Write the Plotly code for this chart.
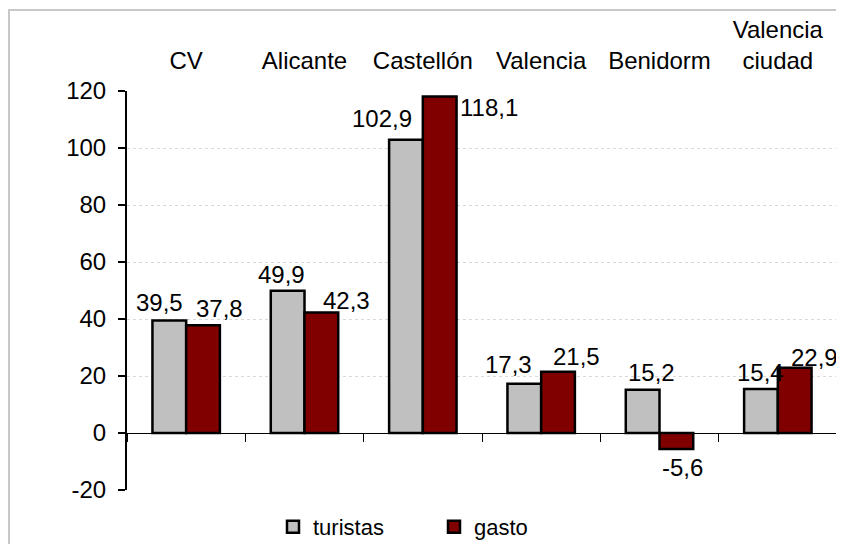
import plotly.graph_objects as go

categories = ["CV", "Alicante", "Castellón", "Valencia", "Benidorm", "Valencia<br>ciudad"]
turistas = [39.5, 49.9, 102.9, 17.3, 15.2, 15.4]
gasto = [37.8, 42.3, 118.1, 21.5, -5.6, 22.9]
y_ticks = [-20, 0, 20, 40, 60, 80, 100, 120]

# label offsets (pixels) relative to bar centre / bar end
turistas_label_dx = [-10, -6, -24, -16, 9, 0]
turistas_label_dy = [18, 16, 21, 19, 17, 17]
gasto_label_dx = [16, 25, 49, 18, 6, 20]
gasto_label_dy = [17, 12, -11, 15, 19, 10]

FONT = "Liberation Sans, Arial, sans-serif"
W, H = 844, 544
ML, MT = 119, 83
PLOT_W, PLOT_H = 710, 399
MR = W - ML - PLOT_W
MB = H - MT - PLOT_H
BARGAP = 0.43
YMIN, YMAX = y_ticks[0], y_ticks[-1]

fig = go.Figure()
fig.add_trace(go.Bar(name="turistas", x=categories, y=turistas,
                     marker=dict(color="#C0C0C0", line=dict(color="black", width=2.5)),
                     cliponaxis=False))
fig.add_trace(go.Bar(name="gasto", x=categories, y=gasto,
                     marker=dict(color="#800000", line=dict(color="black", width=2.5)),
                     cliponaxis=False))

# invisible trace carrying the zero-line category axis
fig.add_trace(go.Scatter(x=[-0.5, len(categories) - 0.5], y=[0, 0], xaxis="x2", yaxis="y",
                         mode="lines", line=dict(width=0), showlegend=False, hoverinfo="skip"))

def fmt(v):
    return f"{v:.1f}".replace(".", ",")

cat_w = PLOT_W / len(categories)
bar_w = cat_w * (1 - BARGAP) / 2

annotations = []
for i, c in enumerate(categories):
    for vals, dxs, dys, side in ((turistas, turistas_label_dx, turistas_label_dy, -1),
                                 (gasto, gasto_label_dx, gasto_label_dy, 1)):
        v = vals[i]
        sign = 1 if v >= 0 else -1
        annotations.append(dict(
            x=c, y=v, xref="x", yref="y", text=fmt(v), showarrow=False,
            xshift=side * bar_w / 2 + dxs[i], yshift=sign * dys[i],
            xanchor="center", yanchor="middle",
            font=dict(family=FONT, size=24, color="black")))

fig.update_layout(
    width=W, height=H,
    margin=dict(l=ML, r=MR, t=MT, b=MB),
    paper_bgcolor="white", plot_bgcolor="white",
    barmode="group", bargap=BARGAP, bargroupgap=0,
    font=dict(family=FONT, size=24, color="black"),
    xaxis=dict(type="category", categoryorder="array", categoryarray=categories,
               side="top", showline=False, ticks="", showgrid=False, automargin=False,
               ticklabelstandoff=16, tickfont=dict(size=24, family=FONT, color="black"),
               range=[-0.5, len(categories) - 0.5]),
    xaxis2=dict(overlaying="x", anchor="free", automargin=False,
                position=(0 - YMIN) / (YMAX - YMIN),
                range=[-0.5, len(categories) - 0.5],
                tickvals=[i - 0.5 for i in range(len(categories) + 1)],
                showticklabels=False, ticks="outside", ticklen=8, tickwidth=1,
                tickcolor="black", showline=True, linecolor="black", linewidth=1,
                showgrid=False, zeroline=False),
    yaxis=dict(range=[YMIN, YMAX], tickvals=y_ticks, ticktext=[str(v) for v in y_ticks],
               showline=True, linecolor="black", automargin=False,
               linewidth=2, ticks="outside", ticklen=7, tickwidth=1.5, tickcolor="black",
               ticklabelstandoff=7,
               showgrid=True, gridcolor="#d9d9d9", griddash="dot", gridwidth=1,
               zeroline=False, tickfont=dict(size=24, family=FONT, color="black")),
    legend=dict(orientation="h", xref="container", yref="container",
                x=265 / W, xanchor="left",
                y=1 - 519 / H, yanchor="middle",
                entrywidth=116, entrywidthmode="pixels",
                font=dict(size=22, family=FONT, color="black"),
                bgcolor="rgba(0,0,0,0)"),
    annotations=annotations,
    showlegend=True,
)

# outer chart border (extends past the right and bottom edges)
fig.add_shape(type="rect", xref="paper", yref="paper",
              x0=(1 - ML) / PLOT_W, x1=(W + 20 - ML) / PLOT_W,
              y0=-(MB + 20) / PLOT_H, y1=1 + (MT - 2) / PLOT_H,
              line=dict(color="#c8c8c8", width=2), fillcolor="rgba(0,0,0,0)", layer="below")

fig.write_html("out.html")
